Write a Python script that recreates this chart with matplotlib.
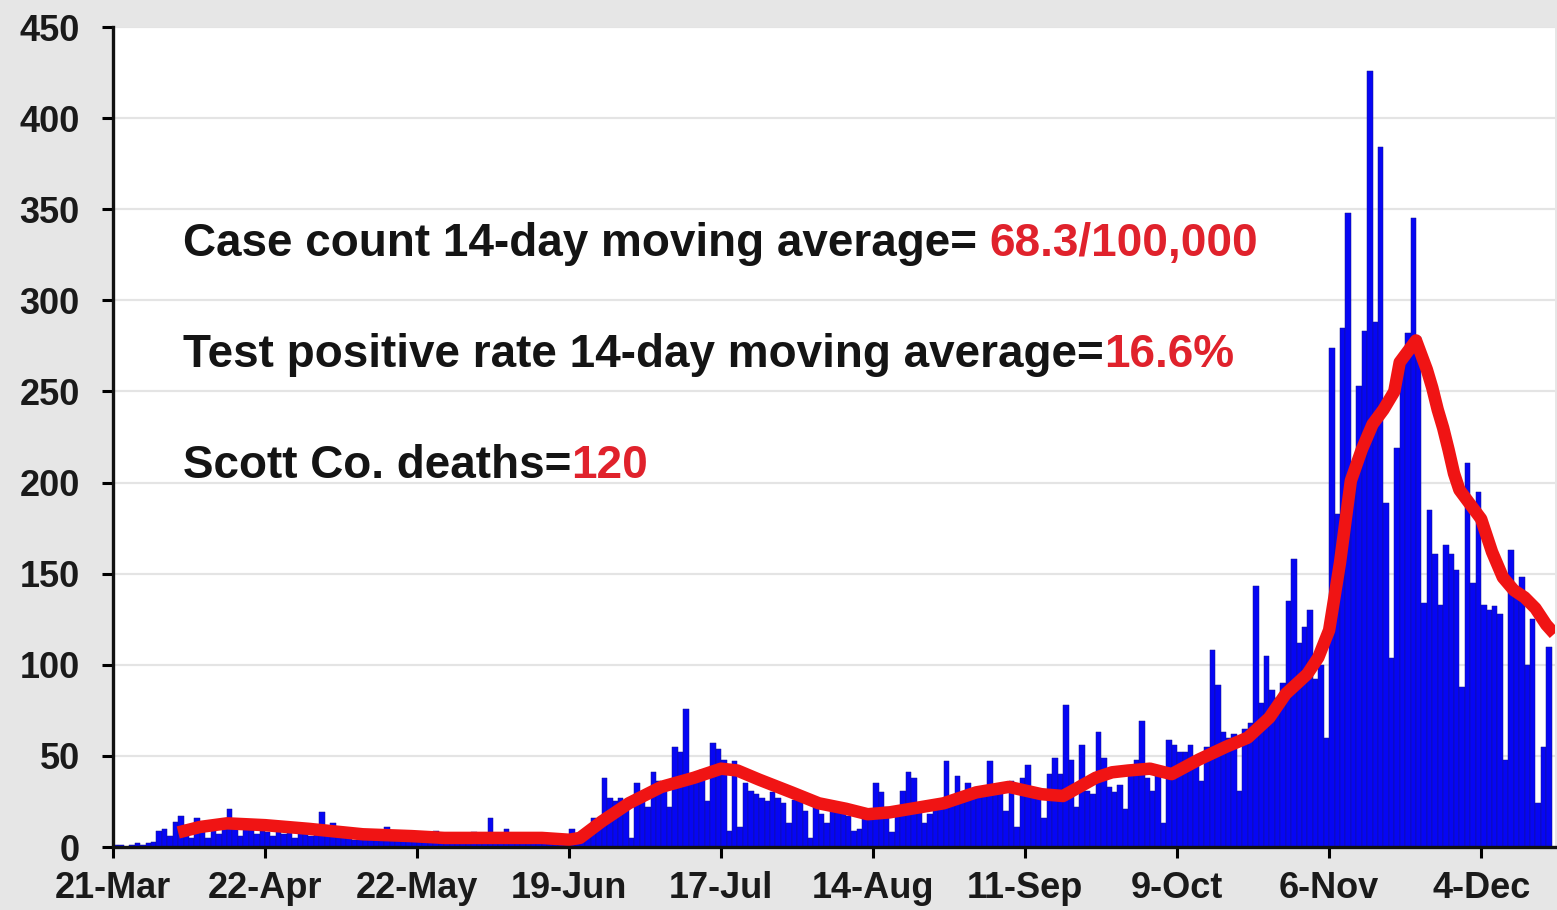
import numpy as np
from matplotlib import pyplot as plt

# daily case counts, one value per day starting 21-Mar
cases = [
    1, 1, 0, 1, 2, 1, 2, 3, 9, 10, 6, 14, 17, 12, 5, 16, 8, 5, 10, 7,
    12, 21, 14, 6, 10, 12, 7, 9,
    8, 6, 11, 7, 9, 5, 10, 8, 6, 12, 19, 7, 13, 9, 6, 8, 4, 10, 7, 5,
    6, 9, 11, 4, 7, 5, 6, 8,
    4, 6, 3, 9, 5, 7, 4, 6, 3, 5, 8, 4, 6, 16, 5, 7, 10, 4, 3, 6,
    5, 2, 4, 6, 3, 5, 4, 6,
    10, 6, 9, 9, 16, 15, 38, 27, 25, 27, 24, 5, 35, 29, 22, 41, 36, 32, 22, 55,
    52, 76, 40, 38, 42, 25, 57, 54,
    48, 9, 47, 11, 35, 31, 29, 27, 25, 30, 27, 24, 13, 26, 28, 20, 5, 22, 18, 13,
    22, 19, 20, 17, 9, 10, 18, 20,
    35, 30, 22, 8, 20, 31, 41, 38, 24, 13, 18, 22, 25, 47, 26, 39, 28, 35, 30, 32,
    29, 47, 34, 33, 20, 36, 11, 38,
    45, 32, 30, 16, 40, 49, 40, 78, 48, 22, 56, 31, 29, 63, 49, 33, 30, 34, 21, 40,
    48, 69, 38, 31, 40, 13, 59, 56,
    52, 52, 56, 50, 36, 55, 108, 89, 63, 60, 62, 31, 65, 68, 143, 79, 105, 86, 82, 90,
    135, 158, 112, 121, 130, 92, 100, 60,
    274, 183, 285, 348, 201, 253, 283, 426, 288, 384, 189, 104, 219, 266, 282, 345,
    280, 134, 185, 161, 133, 166, 161, 152, 88, 211, 145, 195,
    133, 130, 132, 128, 48, 163, 141, 148, 100, 125, 24, 55, 110,
]

# 14-day moving average (day position, value)
avg_days = [
    12, 16, 21, 28, 36, 46, 55, 61, 70, 79,
    84, 86, 90, 95, 101, 107, 112, 115, 119, 125,
    130, 135, 139, 143, 147, 153, 159, 165, 171, 175,
    178, 181, 184, 187, 191, 195, 200, 205, 209, 213,
    216, 220, 222, 224, 226, 228, 230, 232, 234, 236,
    237, 240, 242, 243, 244, 245, 246, 247, 248, 250,
    252, 254, 256, 258, 260, 262, 264, 265.5,
]
avg_vals = [
    8, 11, 13, 12, 10, 7, 6, 5, 5, 5,
    4, 5, 14, 24, 33, 38, 43, 42, 37, 30,
    24, 21, 18, 19, 21, 24, 30, 33, 29, 28,
    33, 38, 41, 42, 43, 40, 48, 55, 60, 71,
    84, 95, 104, 119, 156, 201, 218, 232, 240, 250,
    266, 278, 262, 252, 240, 230, 218, 205, 196, 188,
    180, 162, 148, 141, 137, 131, 122, 117,
]

# x tick labels, one every 28 days
tick_labels = ["21-Mar", "22-Apr", "22-May", "19-Jun", "17-Jul",
               "14-Aug", "11-Sep", "9-Oct", "6-Nov", "4-Dec"]
y_ticks = np.arange(0, 451, 50)

# annotation lines: black part, red part
notes = [
    ("Case count 14-day moving average= ", "68.3/100,000"),
    ("Test positive rate 14-day moving average=", "16.6%"),
    ("Scott Co. deaths=", "120"),
]

plt.rcParams["font.family"] = ["Liberation Sans", "DejaVu Sans"]

fig = plt.figure(figsize=(15.57, 9.10), dpi=100)
fig.patch.set_facecolor("#e6e6e6")
ax = fig.add_axes([0.0726, 0.0692, 0.9261, 0.9011])
ax.set_facecolor("white")

# horizontal grid
ax.set_axisbelow(True)
ax.yaxis.grid(True, color="#e4e4e4", linewidth=1.6)

# daily bars
positions = np.arange(len(cases)) + 0.5
ax.bar(positions, cases, width=1.0, color="#0606f4",
       edgecolor="#14148c", linewidth=0.35)

# moving average
ax.plot(avg_days, avg_vals, color="#f01414", linewidth=9,
        solid_capstyle="butt", solid_joinstyle="round")

# axes settings
ax.set_xlim(0, 265.6)
ax.set_ylim(0, 450)
ax.set_xticks(np.arange(len(tick_labels)) * 28)
ax.set_xticklabels(tick_labels)
ax.set_yticks(y_ticks)
ax.tick_params(axis="y", length=8, width=2.2, pad=16, labelsize=26,
               labelcolor="#1a1a1a")
ax.tick_params(axis="x", length=8, width=2.2, pad=9, labelsize=26,
               labelcolor="#1a1a1a")
for lab in ax.get_xticklabels() + ax.get_yticklabels():
    lab.set_fontweight("bold")
for side in ["top", "right"]:
    ax.spines[side].set_visible(False)
for side in ["left", "bottom"]:
    ax.spines[side].set_linewidth(2.4)
    ax.spines[side].set_color("#111111")

# annotation text
baselines = [319, 258, 197]
for (black, red), y in zip(notes, baselines):
    t = ax.text(12.9, y, black, fontsize=33, fontweight="bold",
                color="#141414", va="bottom")
    ax.annotate(red, xy=(1, 0), xycoords=t, fontsize=33,
                fontweight="bold", color="#e0222c", va="bottom")

fig.savefig("out.png", dpi=100, facecolor=fig.get_facecolor())
